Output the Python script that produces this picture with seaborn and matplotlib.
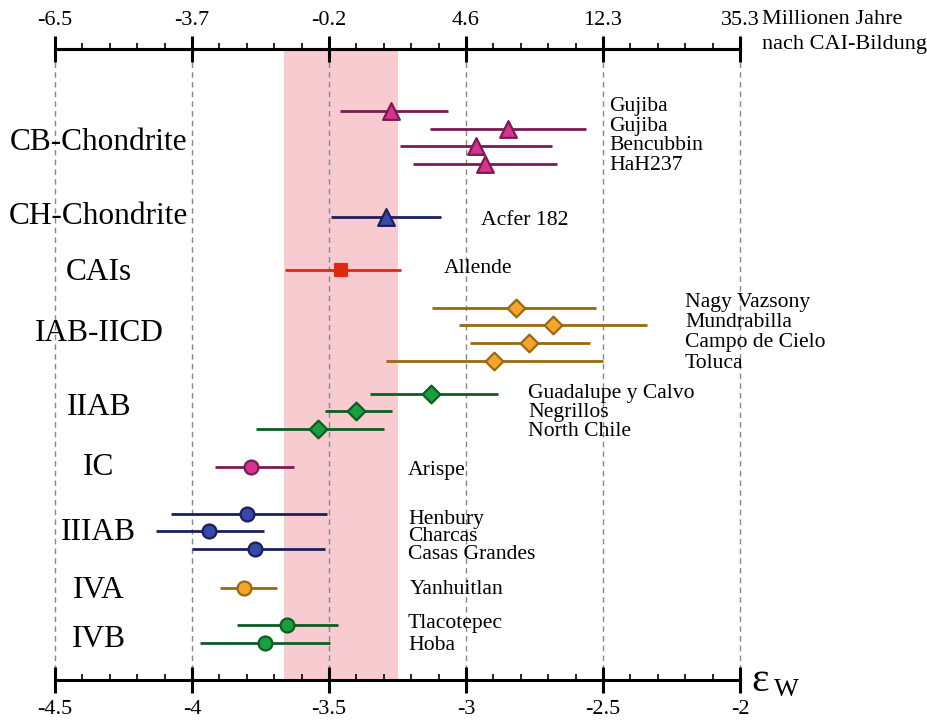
import matplotlib
matplotlib.use("Agg")
import matplotlib.pyplot as plt
import seaborn as sns
import pandas as pd
import numpy as np

# ---------------- data ----------------
groups = ["CB-Chondrite", "CH-Chondrite", "CAIs", "IAB-IICD", "IIAB", "IC", "IIIAB", "IVA", "IVB"]
names = [
    ["Gujiba", "Gujiba", "Bencubbin", "HaH237"],
    ["Acfer 182"],
    ["Allende"],
    ["Nagy Vazsony", "Mundrabilla", "Campo de Cielo", "Toluca"],
    ["Guadalupe y Calvo", "Negrillos", "North Chile"],
    ["Arispe"],
    ["Henbury", "Charcas", "Casas Grandes"],
    ["Yanhuitlan"],
    ["Tlacotepec", "Hoba"],
]
eps_w = [
    [-3.274, -2.847, -2.964, -2.931],
    [-3.292],
    [-3.456],
    [-2.818, -2.682, -2.770, -2.898],
    [-3.128, -3.401, -3.540],
    [-3.785],
    [-3.799, -3.938, -3.770],
    [-3.810],
    [-3.653, -3.734],
]
err_lo = [
    [-3.460, -3.131, -3.241, -3.193],
    [-3.493],
    [-3.661],
    [-3.124, -3.026, -2.985, -3.292],
    [-3.350, -3.515, -3.766],
    [-3.916],
    [-4.077, -4.131, -4.000],
    [-3.898],
    [-3.836, -3.971],
]
err_hi = [
    [-3.066, -2.562, -2.686, -2.668],
    [-3.091],
    [-3.237],
    [-2.526, -2.339, -2.547, -2.500],
    [-2.883, -3.270, -3.299],
    [-3.628],
    [-3.507, -3.737, -3.515],
    [-3.690],
    [-3.467, -3.496],
]
band = (-3.664, -3.248)
bottom_ticks = [-4.5, -4, -3.5, -3, -2.5, -2]
top_labels = ["-6.5", "-3.7", "-0.2", "4.6", "12.3", "35.3"]

# ---------------- styles / layout ----------------
styles = {
    "CB-Chondrite": dict(marker="^", fc="#d9338f", ec="#7b1a55", ms=12),
    "CH-Chondrite": dict(marker="^", fc="#3848a8", ec="#1b1f5e", ms=12),
    "CAIs": dict(marker="s", fc="#dd2a10", ec="#dd2a10", ms=8),
    "IAB-IICD": dict(marker="D", fc="#f5a62a", ec="#9a6812", ms=9),
    "IIAB": dict(marker="D", fc="#17a040", ec="#0d5c22", ms=9),
    "IC": dict(marker="o", fc="#d9338f", ec="#7b1a55", ms=10),
    "IIIAB": dict(marker="o", fc="#3848a8", ec="#1b1f5e", ms=10),
    "IVA": dict(marker="o", fc="#f5a62a", ec="#9a6812", ms=10),
    "IVB": dict(marker="o", fc="#17a040", ec="#0d5c22", ms=10),
}
# row layout (in pixel-like units, from top)
first_row = 111
row_step = 17.6
gaps_before = [0, 53, 53, 38, 33, 38, 47, 39, 37]
name_x = [-2.478, -2.945, -3.080, -2.201, -2.774, -3.212, -3.212, -3.204, -3.212]
name_base_off = [0, 8, 3, -1, 4, 8, 10, 6, 3]
name_step = [19.7, 0, 0, 20.3, 19.0, 0, 17.5, 0, 22.0]
label_y_off = [5.5, -0.5, 2.5, -0.5, -3.5, 0.5, 1.5, 2.5, 5.5]
group_label_x = -4.34

rows = []
y = first_row
for gi, g in enumerate(groups):
    if gi > 0:
        y += gaps_before[gi]
    for j, n in enumerate(names[gi]):
        if j > 0:
            y += row_step
        rows.append(dict(group=g, name=n, eps=eps_w[gi][j], lo=err_lo[gi][j],
                         hi=err_hi[gi][j], y=y, gi=gi, j=j))
df = pd.DataFrame(rows)

# ---------------- figure ----------------
sns.set_theme(style="white")
plt.rcParams["font.family"] = ["Liberation Serif", "DejaVu Serif"]
plt.rcParams["text.color"] = "black"
plt.rcParams["xtick.color"] = "black"
plt.rcParams["axes.labelcolor"] = "black"

fig = plt.figure(figsize=(9.28, 7.25), dpi=100)
ax = fig.add_axes([55 / 928, 1 - 680 / 725, (740 - 55) / 928, (680 - 49) / 725])
ax.set_xlim(-4.5, -2)
ax.set_ylim(680, 49)

ax.axvspan(band[0], band[1], color="#f7cbcf", lw=0, zorder=0)
for t in bottom_ticks:
    ax.axvline(t, color="#888888", lw=1.0, ls=(0, (4, 3)), zorder=0.5, clip_on=False)

for gi, g in enumerate(groups):
    st = styles[g]
    sub = df[df.group == g]
    ax.hlines(sub.y, sub.lo, sub.hi, color=st["ec"], lw=2.0, zorder=2)
    sns.scatterplot(data=sub, x="eps", y="y", ax=ax, marker=st["marker"],
                    s=st["ms"] ** 2, color=st["fc"], edgecolor=st["ec"],
                    linewidth=1.6, zorder=3, legend=False)
    y0 = sub.y.iloc[0] + name_base_off[gi]
    for _, r in sub.iterrows():
        ax.text(name_x[gi], y0 + r.j * name_step[gi], r["name"], fontsize=15.6,
                va="baseline", ha="left", clip_on=False)
    ax.text(group_label_x, sub.y.mean() + label_y_off[gi], g, fontsize=22.6,
            va="center", ha="center", clip_on=False)

ax.set_xlabel("")
ax.set_ylabel("")
ax.set_yticks([])
for s in ["left", "right"]:
    ax.spines[s].set_visible(False)
for s in ["top", "bottom"]:
    ax.spines[s].set_linewidth(2.2)
    ax.spines[s].set_color("black")

ax.set_xticks(bottom_ticks)
ax.set_xticklabels([f"{t:g}" for t in bottom_ticks], fontsize=16)
ax.set_xticks(np.arange(-4.5, -1.99, 0.1), minor=True)
ax.tick_params(axis="x", which="major", direction="inout", length=19, width=2.2,
               pad=5, bottom=True, top=False, color="black", labelcolor="black")
ax.tick_params(axis="x", which="minor", direction="in", length=4.5, width=1.2,
               bottom=True, top=False, color="black")

ax2 = ax.twiny()
ax2.set_xlim(ax.get_xlim())
ax2.set_xticks(bottom_ticks)
ax2.set_xticklabels(top_labels, fontsize=16)
ax2.set_xticks(np.arange(-4.5, -1.99, 0.1), minor=True)
ax2.tick_params(axis="x", which="major", direction="inout", length=19, width=2.2,
                pad=4.5, color="black", labelcolor="black")
ax2.tick_params(axis="x", which="minor", direction="out", length=4.5, width=1.2,
                color="black")
for s in ["left", "right", "bottom"]:
    ax2.spines[s].set_visible(False)
ax2.spines["top"].set_linewidth(2.2)
ax2.spines["top"].set_color("black")

fig.text(762 / 928, 1 - 19 / 725, "Millionen Jahre", fontsize=16, va="center", ha="left")
fig.text(762 / 928, 1 - 45 / 725, "nach CAI-Bildung", fontsize=16, va="center", ha="left")
fig.text(751 / 928, 1 - 681 / 725, "ε", fontsize=30, va="center", ha="left")
fig.text(774 / 928, 1 - 690 / 725, "W", fontsize=19, va="center", ha="left")

fig.savefig("out.png", dpi=100)
